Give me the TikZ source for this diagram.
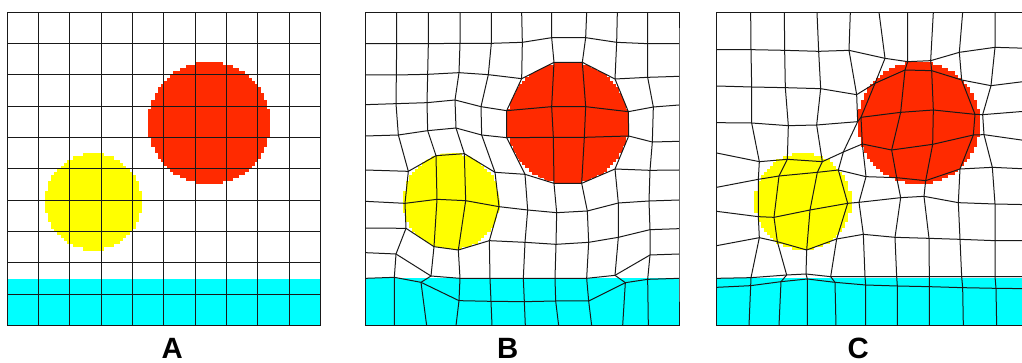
\documentclass[tikz,border=0pt]{standalone}
\usepackage{fontspec}
\setmainfont{Liberation Sans}
\definecolor{discred}{HTML}{FF2A00}
\definecolor{discyellow}{HTML}{FFFF00}
\definecolor{bandcyan}{HTML}{00FFFF}
\tikzset{
    meshline/.style={draw=black!90, line width=0.75pt, line join=round},
    panellabel/.style={font=\bfseries\fontsize{22}{24}\selectfont, anchor=base, inner sep=0pt}
}
% disco pixelado: centro x, centro y, radio en pixeles, color
\newcommand{\pixdisc}[4]{%
    \foreach \k in {-#3,...,#3} {
        \pgfmathsetmacro{\hw}{(floor(sqrt((#3+.5)*(#3+.5)-(\k)*(\k)))+.5)*9.4}
        \fill[#4] ({#1-\hw},{#2+(\k-.5)*9.4}) rectangle ({#1+\hw},{#2+(\k+.5)*9.4+.5});
    }}
% una fila de vertices de la malla
\newcommand{\meshrow}[2]{%
    \foreach \x/\y [count=\c from 0] in {#2} {\coordinate (#1-\c) at (\x,\y);}}
% filas y columnas de una malla ya definida
\newcommand{\drawmesh}[1]{%
    \foreach \i in {0,...,10} {
        \draw[meshline] (#1\i-0) \foreach \j in {1,...,10} {-- (#1\i-\j)};
        \draw[meshline] (#10-\i) \foreach \j in {1,...,10} {-- (#1\j-\i)};
    }}
\begin{document}
\begin{tikzpicture}[x=0.25pt, y=-0.25pt]
    \clip (0,0) rectangle (3066,1089);

    % 1. MALLA REGULAR
    \fill[bandcyan] (21,836) rectangle (961,977);
    \pixdisc{628}{369.5}{19}{discred}
    \pixdisc{280.5}{605.5}{15}{discyellow}
    \foreach \i in {0,...,10} {
        \draw[meshline] ({21+94*\i},37) -- ({21+94*\i},977);
        \draw[meshline] (21,{37+94*\i}) -- (961,{37+94*\i});
    }

    % 2. MALLA AJUSTADA A LOS DISCOS
    \begin{scope}[shift={(1050,0)}]
        \fill[bandcyan] (46,835) rectangle (987,977);
        \begin{scope}
            \clip (612,187) -- (697,187) -- (795,237) -- (835,335) -- (836,408) -- (795,507) -- (695,550) -- (612,550) -- (525,515) -- (470,413) -- (470,332) -- (515,236) -- cycle;
            \pixdisc{653}{368.5}{19}{discred}
        \end{scope}
        \begin{scope}
            \clip (175,514) -- (258,462) -- (343,458) -- (435,517) -- (452,620) -- (418,722) -- (325,750) -- (252,740) -- (168,685) -- (158,640) -- (158,580) -- cycle;
            \pixdisc{304}{605}{15}{discyellow}
        \end{scope}
        \meshrow{b0}{46/37,140/37,235/37,330/37,424/37,515/37,605/37,710/37,802/37,893/37,987/37}
        \meshrow{b1}{46/131,140/131,235/131,330/130,424/130,517/127,605/113,707/113,800/127,893/131,987/131}
        \meshrow{b2}{46/225,139/225,233/223,327/218,415/224,515/236,612/187,697/187,795/237,893/232,987/229}
        \meshrow{b3}{46/314,138/311,231/308,315/300,393/320,470/332,605/320,707/320,835/335,910/321,987/315}
        \meshrow{b4}{46/408,145/405,233/392,318/384,395/405,470/413,610/412,703/412,836/408,907/426,987/424}
        \meshrow{b5}{46/510,175/514,258/467,343/461,435/517,525/523,612/550,695/550,795/507,900/511,987/510}
        \meshrow{b6}{46/604,165/610,261/598,347/602,447/620,533/630,620/638,712/633,805/609,897/603,987/600}
        \meshrow{b7}{46/684,168/685,252/740,325/750,418/722,525/727,618/733,716/727,805/712,900/689,987/686}
        \meshrow{b8}{46/758,138/762,243/828,330/835,420/835,520/835,615/835,710/835,795/826,900/765,987/762}
        \meshrow{b9}{46/835,133/832,213/847,327/902,423/904,523/905,617/903,716/903,826/848,893/838,987/835}
        \meshrow{b10}{46/977,133/977,230/977,318/977,426/977,526/977,626/977,725/977,818/977,895/977,987/977}
        \drawmesh{b}
    \end{scope}

    % 3. MALLA DEFORMADA (la ultima columna queda fuera de la imagen)
    \begin{scope}[shift={(2100,0)}]
        \fill[bandcyan] (50,835) rectangle (985,977);
        \pixdisc{656}{369.5}{19}{discred}
        \pixdisc{309}{605}{15}{discyellow}
        \meshrow{c0}{50/37,152/37,253/37,351/37,451/37,537/37,623/37,700/37,788/37,885/37,985/37}
        \meshrow{c1}{50/149,153/149,254/151,356/154,447/151,555/175,623/185,692/182,778/157,885/142,985/145}
        \meshrow{c2}{50/258,155/261,256/263,362/266,470/284,525/250,615/210,695/212,785/240,873/257,985/243}
        \meshrow{c3}{50/368,155/369,265/377,350/375,473/365,483/352,602/337,700/330,825/343,848/344,985/333}
        \meshrow{c4}{50/459,178/485,262/478,367/485,430/456,487/432,575/450,698/433,820/405,852/404,985/423}
        \meshrow{c5}{50/562,175/538,237/528,352/517,415/510,498/530,590/533,677/542,780/507,877/502,985/507}
        \meshrow{c6}{50/634,175/650,222/652,330/630,443/610,477/607,602/593,672/589,775/608,885/612,985/614}
        \meshrow{c7}{50/737,178/713,232/725,320/750,410/717,490/703,585/712,687/715,780/718,885/722,985/722}
        \meshrow{c8}{50/835,153/833,260/825,318/822,392/830,495/830,590/830,688/830,785/830,885/830,985/830}
        \meshrow{c9}{50/862,152/857,243/845,322/837,405/847,497/855,592/858,688/860,788/863,888/865,985/866}
        \meshrow{c10}{50/977,147/977,237/977,322/977,408/977,497/977,592/977,688/977,790/977,890/977,985/977}
        \drawmesh{c}
    \end{scope}

    % 4. ETIQUETAS
    \node[panellabel] (labelA) at (517,1076) {A};
    \node[panellabel] (labelB) at (1523,1076) {B};
    \node[panellabel] (labelC) at (2575,1076) {C};
\end{tikzpicture}
\end{document}
